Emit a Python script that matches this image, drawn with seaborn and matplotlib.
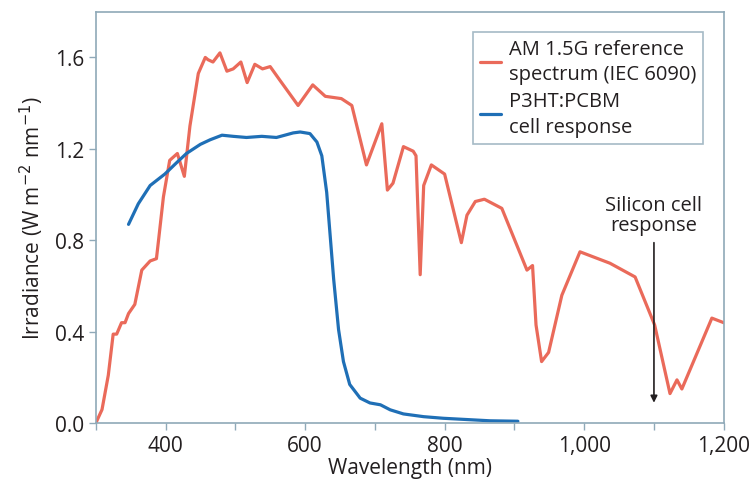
import seaborn as sns
import numpy as np
import pandas as pd
import matplotlib.pyplot as plt
from matplotlib.ticker import MultipleLocator, FuncFormatter

# AM 1.5G reference spectrum
am_wl = [300, 309, 318, 325, 330, 337, 342, 347, 356, 366, 378, 387, 390, 397, 406, 417,
         421, 427, 435, 447, 457, 461, 468, 478, 488, 497, 508, 517, 528, 539, 550, 564,
         590, 611, 629, 652, 667, 688, 710, 718, 726, 741, 755, 759, 765, 770, 781, 800,
         824, 832, 844, 857, 882, 918, 926, 931, 939, 949, 968, 994, 1037, 1073, 1101,
         1123, 1133, 1140, 1183, 1200]
am_irr = [0.0, 0.06, 0.21, 0.39, 0.39, 0.44, 0.44, 0.48, 0.52, 0.67, 0.71, 0.72, 0.80, 0.99,
          1.15, 1.18, 1.14, 1.08, 1.30, 1.53, 1.60, 1.59, 1.58, 1.62, 1.54, 1.55, 1.58, 1.49,
          1.57, 1.55, 1.56, 1.50, 1.39, 1.48, 1.43, 1.42, 1.39, 1.13, 1.31, 1.02, 1.05, 1.21,
          1.19, 1.17, 0.65, 1.04, 1.13, 1.09, 0.79, 0.91, 0.97, 0.98, 0.94, 0.67, 0.69, 0.43,
          0.27, 0.31, 0.56, 0.75, 0.70, 0.64, 0.43, 0.13, 0.19, 0.15, 0.46, 0.44]

# P3HT:PCBM cell response
p3_wl = [347, 361, 378, 399, 416, 430, 450, 464, 481, 497, 516, 538, 559, 583, 593, 607,
         617, 624, 631, 636, 641, 648, 655, 664, 679, 693, 708, 722, 741, 770, 798, 865, 905]
p3_irr = [0.87, 0.96, 1.04, 1.09, 1.14, 1.18, 1.22, 1.24, 1.26, 1.255, 1.25, 1.255, 1.25,
          1.27, 1.274, 1.267, 1.23, 1.17, 1.01, 0.82, 0.63, 0.41, 0.27, 0.17, 0.11, 0.089,
          0.081, 0.059, 0.041, 0.029, 0.022, 0.011, 0.009]

am_label = "AM 1.5G reference\nspectrum (IEC 6090)"
p3_label = "P3HT:PCBM\ncell response"

red = "#ea6a5a"
blue = "#1f6fb6"
frame = "#8fa9b8"
ink = "#231f20"

sns.set_style("white")
plt.rcParams['font.family'] = ['Open Sans', 'DejaVu Sans']

fig = plt.figure(figsize=(7.52, 4.89), dpi=100)
ax = fig.add_axes([0.1273, 0.1323, 0.8351, 0.8417])

am = pd.DataFrame({"wl": am_wl, "irr": am_irr})
p3 = pd.DataFrame({"wl": p3_wl, "irr": p3_irr})
sns.lineplot(data=am, x="wl", y="irr", ax=ax, color=red, lw=2.3, label=am_label)
sns.lineplot(data=p3, x="wl", y="irr", ax=ax, color=blue, lw=2.3, label=p3_label)

ax.set_xlim(300, 1200)
ax.set_ylim(0, 1.8)
ax.xaxis.set_major_locator(MultipleLocator(200))
ax.xaxis.set_minor_locator(MultipleLocator(100))
ax.xaxis.set_major_formatter(FuncFormatter(lambda v, p: f"{int(v):,}"))
ax.yaxis.set_major_locator(MultipleLocator(0.4))
ax.yaxis.set_major_formatter(FuncFormatter(lambda v, p: f"{v:.1f}"))
ax.tick_params(axis="both", which="both", direction="out", length=5, width=1,
               color=frame, labelsize=15, labelcolor=ink, bottom=True, left=True)
for s in ax.spines.values():
    s.set_color(frame)
    s.set_linewidth(1.2)

ax.set_xlabel("Wavelength (nm)", fontsize=15, color=ink, labelpad=1)
ax.set_ylabel("Irradiance (W m$^{-2}$ nm$^{-1}$)", fontsize=15, color=ink, labelpad=6)

leg = ax.legend(loc="upper right", bbox_to_anchor=(0.983, 0.975), fontsize=14.5,
                handlelength=1.0, handletextpad=0.4, fancybox=False, frameon=True,
                borderpad=0.35, labelspacing=0.35)
leg.get_frame().set_edgecolor(frame)
leg.get_frame().set_linewidth(1.2)
for t in leg.get_texts():
    t.set_color(ink)
    t.set_linespacing(1.35)

ax.annotate("Silicon cell\nresponse", xy=(1100, 0.09), xytext=(1100, 0.91),
            ha="center", va="center", fontsize=14.5, color=ink, linespacing=1.0,
            arrowprops=dict(arrowstyle="-|>", color=ink, lw=1.2,
                            shrinkA=3, shrinkB=0, mutation_scale=10))

plt.savefig("out.png", dpi=100)
